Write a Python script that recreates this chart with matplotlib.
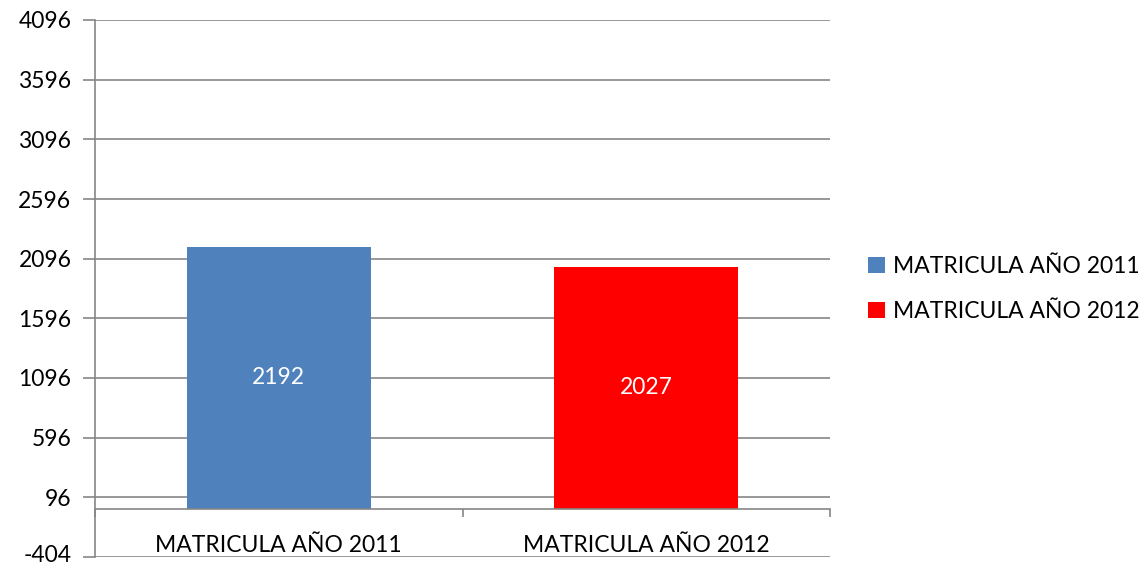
import matplotlib
matplotlib.use("Agg")
import matplotlib.pyplot as plt
import matplotlib.transforms as mtransforms
import numpy as np
from matplotlib.patches import Patch

categories = ["MATRICULA AÑO 2011", "MATRICULA AÑO 2012"]
values = [2192, 2027]
colors = ["#4F81BD", "#FF0000"]
yticks = [-404, 96, 596, 1096, 1596, 2096, 2596, 3096, 3596, 4096]

plt.rcParams['font.family'] = ['Lato', 'DejaVu Sans']
W, H = 1145, 566
fig = plt.figure(figsize=(W/100, H/100), dpi=100)
ax = fig.add_axes([95/W, (H-557)/H, (830-95)/W, (557-20)/H])

FS = 16.5
grid_c = "#868686"
x = np.arange(len(categories))
bars = ax.bar(x, values, width=0.5, color=colors, zorder=3)
for b, v in zip(bars, values):
    ax.text(b.get_x() + b.get_width()/2, v/2, str(v), ha='center', va='center',
            color='white', fontsize=FS, zorder=4)

ax.set_xlim(-0.5, len(categories)-0.5)
ax.set_ylim(yticks[0], yticks[-1])
ax.set_yticks(yticks)
ax.set_yticklabels([str(t) for t in yticks], fontsize=FS)
ax.yaxis.grid(True, color=grid_c, lw=1.2, zorder=0)
ax.tick_params(axis='y', length=9, width=1.2, color=grid_c, pad=8)

ax.spines['top'].set_visible(False)
ax.spines['right'].set_visible(False)
ax.spines['left'].set_color(grid_c)
ax.spines['left'].set_linewidth(1.2)
ax.spines['bottom'].set_position(('data', 0))
ax.spines['bottom'].set_color(grid_c)
ax.spines['bottom'].set_linewidth(1.2)
ax.spines['bottom'].set_zorder(5)

ax.set_xticks(np.arange(len(categories)+1) - 0.5)
ax.set_xticklabels([])
ax.tick_params(axis='x', which='major', length=6, width=1.2, color=grid_c, direction='out')
ax.set_xticks(x, minor=True)
ax.set_xticklabels(categories, minor=True, fontsize=FS)
ax.tick_params(axis='x', which='minor', length=0, pad=19)

# nudge the lowest y label up slightly so it stays inside the figure
lbl = ax.get_yticklabels()[0]
lbl.set_transform(lbl.get_transform() + mtransforms.ScaledTranslation(0, 3/100, fig.dpi_scale_trans))

handles = [Patch(facecolor=c, edgecolor='none') for c in colors]
fig.legend(handles, categories, loc='center left', bbox_to_anchor=(868/W, 1-289/H),
           frameon=False, fontsize=FS, handlelength=0.75, handleheight=0.75,
           handletextpad=0.35, labelspacing=1.05, borderaxespad=0, borderpad=0)

fig.savefig("out.png", dpi=100)
